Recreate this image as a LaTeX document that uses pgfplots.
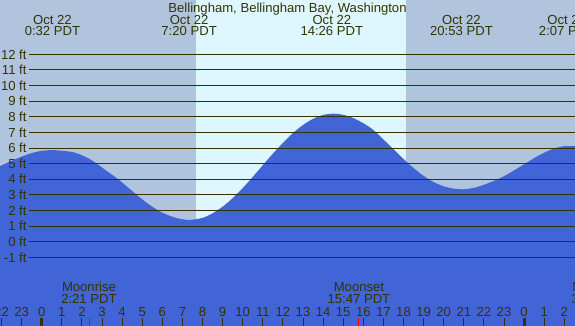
\documentclass[border=0pt]{standalone}
\usepackage{pgfplots}
\pgfplotsset{compat=1.18}
\usepackage{fontspec}
\setmainfont{Liberation Sans}
\definecolor{night}{RGB}{176,196,222}
\definecolor{day}{RGB}{222,247,255}
\definecolor{water}{RGB}{65,100,215}
\definecolor{ink}{RGB}{51,51,0}
\newcommand\fs{\fontsize{13.1}{14}\selectfont}
\begin{document}
\begin{tikzpicture}
\begin{axis}[at={(0pt,0pt)}, anchor=south west, scale only axis,
  width=575pt, height=326pt,
  xmin=-2.075, xmax=26.532, ymin=-5.393, ymax=15.48,
  hide axis]
\fill[night] (axis cs:-3,-6) rectangle (axis cs:28,16);
\fill[day] (axis cs:7.68,-6) rectangle (axis cs:18.12,16);

\addplot[fill=water, draw=none, smooth, tension=0.5] coordinates {
(-2.1,4.83) (-1.5,5.18) (-1.0,5.45) (-0.5,5.68) (0.0,5.82) (0.5,5.87)
(1.0,5.83) (1.5,5.75) (1.75,5.66) (2.0,5.54) (2.4,5.29) (2.74,5.0)
(3.25,4.52) (3.81,4.0) (4.27,3.5) (4.73,3.0) (5.25,2.47) (5.8,2.0)
(6.3,1.70) (6.8,1.49) (7.36,1.40)
(8.0,1.53) (8.5,1.82) (9.0,2.25) (9.5,2.79) (10.0,3.44) (10.5,4.15)
(11.0,4.90) (11.5,5.64) (12.0,6.33) (12.5,6.96) (13.0,7.48) (13.5,7.87)
(14.0,8.12) (14.51,8.2)
(15.0,8.13) (15.5,7.92) (16.0,7.59) (16.5,7.16) (17.0,6.55) (17.5,5.93)
(18.0,5.3) (18.5,4.72) (19.0,4.22) (19.5,3.82) (20.0,3.55) (20.5,3.40)
(20.97,3.36)
(21.5,3.45) (22.0,3.65) (22.5,3.9) (23.0,4.2) (23.5,4.57) (24.05,5.0)
(24.5,5.36) (25.0,5.70) (25.5,5.97) (26.0,6.12) (26.6,6.12)}
 -- (axis cs:26.6,-6) -- (axis cs:-2.1,-6) -- cycle;

\pgfplotsinvokeforeach{-1,...,12}{
  \draw[ink, line width=1pt] (axis cs:-0.617,#1) -- (axis cs:27,#1);
  \node[anchor=base east, inner sep=0pt, font=\fs, text=ink, yshift=-4.7pt] at (axis cs:-0.746,#1) {#1 ft};
}

\pgfplotsinvokeforeach{-2,...,26}{
  \draw[ink, line width=1pt] (axis cs:#1,-4.898) -- (axis cs:#1,-5.6);
  \node[anchor=base, inner sep=0pt, font=\fs, text=ink] at (axis cs:#1,-4.795) {\pgfmathtruncatemacro\lab{mod(#1+24,24)}\lab};
}
\draw[ink, line width=3pt] (axis cs:0,-4.898) -- (axis cs:0,-5.6);
\draw[ink, line width=3pt] (axis cs:24,-4.898) -- (axis cs:24,-5.6);
\draw[red, line width=1pt] (axis cs:2.37,-4.898) -- (axis cs:2.37,-5.6);
\draw[red, line width=1pt] (axis cs:15.783,-4.898) -- (axis cs:15.783,-5.6);

\node[anchor=base, inner sep=0pt, font=\fs, text=ink] at (axis cs:12.229,14.67) {Bellingham, Bellingham Bay, Washington};
\node[anchor=base, inner sep=0pt, font=\fs, text=ink] at (axis cs:0.533,13.92) {Oct 22};
\node[anchor=base, inner sep=0pt, font=\fs, text=ink] at (axis cs:0.533,13.18) {0:32 PDT};
\node[anchor=base, inner sep=0pt, font=\fs, text=ink] at (axis cs:7.333,13.92) {Oct 22};
\node[anchor=base, inner sep=0pt, font=\fs, text=ink] at (axis cs:7.333,13.18) {7:20 PDT};
\node[anchor=base, inner sep=0pt, font=\fs, text=ink] at (axis cs:14.433,13.92) {Oct 22};
\node[anchor=base, inner sep=0pt, font=\fs, text=ink] at (axis cs:14.433,13.18) {14:26 PDT};
\node[anchor=base, inner sep=0pt, font=\fs, text=ink] at (axis cs:20.883,13.92) {Oct 22};
\node[anchor=base, inner sep=0pt, font=\fs, text=ink] at (axis cs:20.883,13.18) {20:53 PDT};
\node[anchor=base, inner sep=0pt, font=\fs, text=ink] at (axis cs:26.117,13.92) {Oct 23};
\node[anchor=base, inner sep=0pt, font=\fs, text=ink] at (axis cs:26.117,13.18) {2:07 PDT};

\node[anchor=base, inner sep=0pt, font=\fs, text=ink] at (axis cs:2.35,-3.195) {Moonrise};
\node[anchor=base, inner sep=0pt, font=\fs, text=ink] at (axis cs:2.35,-3.96) {2:21 PDT};
\node[anchor=base, inner sep=0pt, font=\fs, text=ink] at (axis cs:15.783,-3.195) {Moonset};
\node[anchor=base, inner sep=0pt, font=\fs, text=ink] at (axis cs:15.783,-3.96) {15:47 PDT};
\node[anchor=base, inner sep=0pt, font=\fs, text=ink] at (axis cs:27.74,-3.195) {Moonrise};
\node[anchor=base, inner sep=0pt, font=\fs, text=ink] at (axis cs:27.74,-3.96) {3:44 PDT};
\end{axis}
\pgfresetboundingbox
\path[use as bounding box] (0pt,0pt) rectangle (575pt,326pt);
\end{tikzpicture}
\end{document}
